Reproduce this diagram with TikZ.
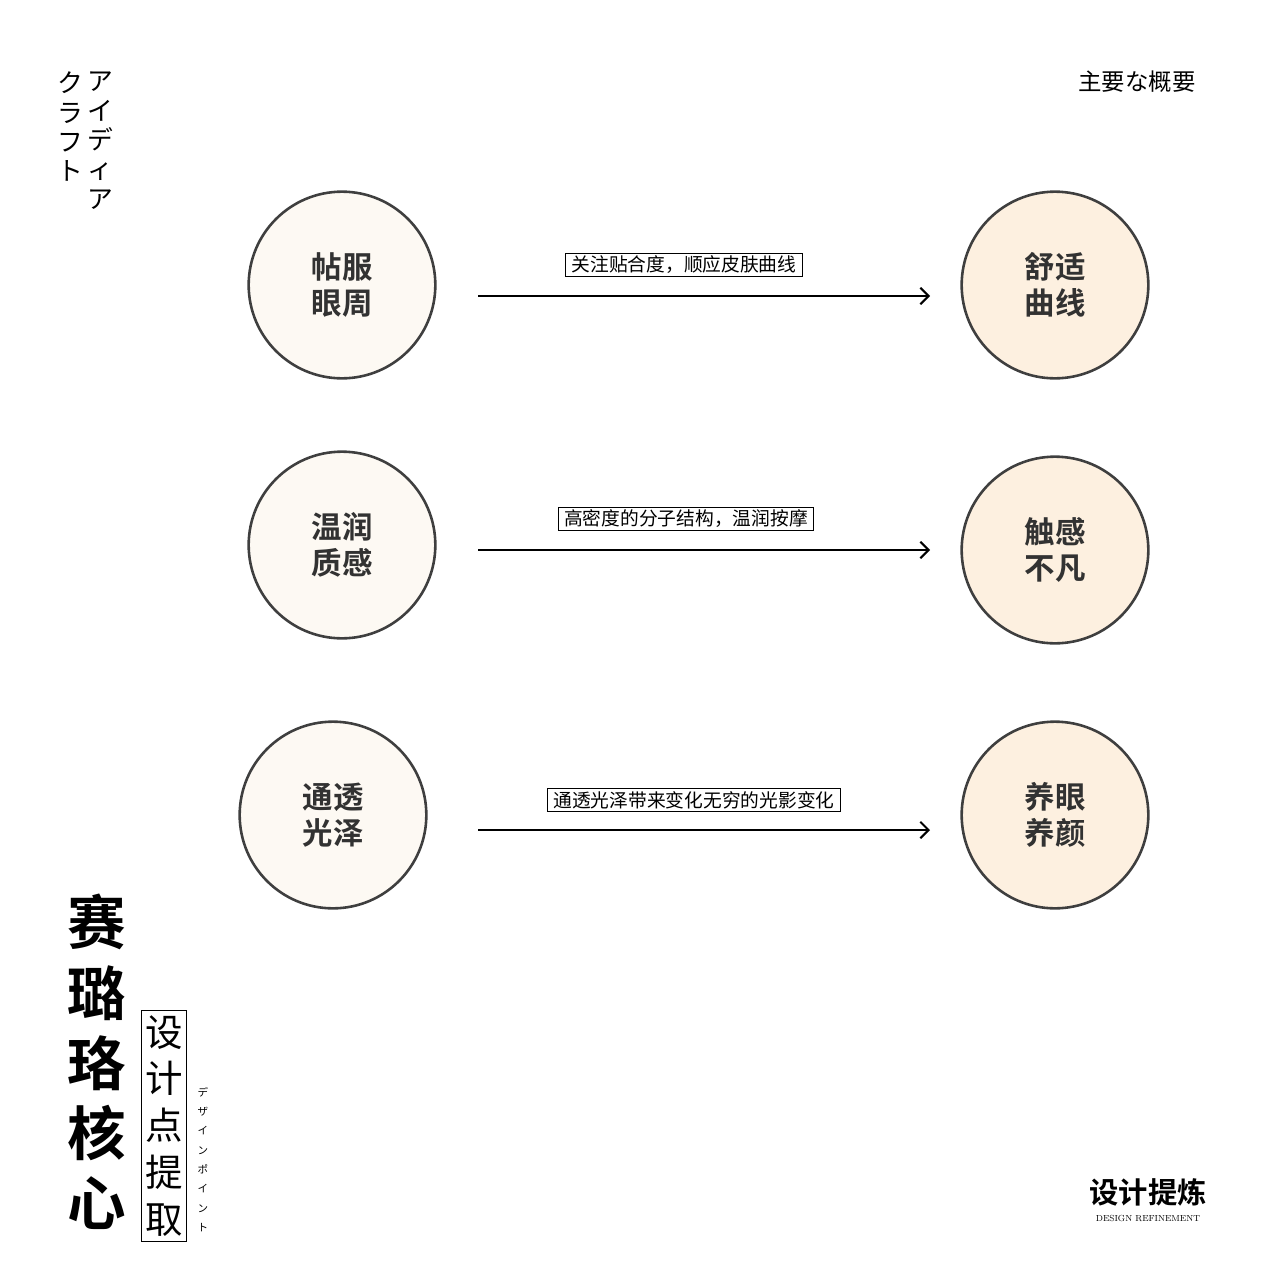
\documentclass[tikz,border=0pt]{standalone}
\usepackage{fontspec}
\newfontfamily\cjkr{Noto Sans CJK SC}
\newfontfamily\cjkb{Noto Sans CJK SC Bold}
\newfontfamily\cjkjp{Noto Sans CJK JP}
\usetikzlibrary{arrows.meta}
\definecolor{lc}{HTML}{FDF9F3}
\definecolor{rc}{HTML}{FDF0E0}
\definecolor{st}{HTML}{3F3F3F}
\tikzset{
 circ/.style={circle,draw=st,line width=2.2pt,minimum size=5.6cm,inner sep=0pt,font=\cjkb\fontsize{26}{31}\selectfont,align=center,text=st!80!black},
 lcirc/.style={circ,fill=lc},
 rcirc/.style={circ,fill=rc},
 lab/.style={draw=black,line width=1pt,fill=white,font=\cjkr\fontsize{16}{18}\selectfont,inner xsep=5pt,inner ysep=2pt},
 arr/.style={line width=1.7pt,-{Straight Barb[length=7pt,width=14pt,line width=1.7pt]}}
}
\begin{document}
\begin{tikzpicture}[x=0.03cm,y=-0.03cm]
\useasboundingbox (0,0) rectangle (1280,1280);
\node[lcirc] (a1) at (342,285) {帖服\\眼周};
\node[lcirc] (a2) at (342,545) {温润\\质感};
\node[lcirc] (a3) at (333,815) {通透\\光泽};
\node[rcirc] (b1) at (1055,285) {舒适\\曲线};
\node[rcirc] (b2) at (1055,550) {触感\\不凡};
\node[rcirc] (b3) at (1055,815) {养眼\\养颜};
\coordinate (s1) at (478,296); \coordinate (e1) at (930,296);
\coordinate (s2) at (478,550); \coordinate (e2) at (930,550);
\coordinate (s3) at (478,830); \coordinate (e3) at (930,830);
\draw[arr] (s1) -- (e1);
\draw[arr] (s2) -- (e2);
\draw[arr] (s3) -- (e3);
\node[lab] (l1) at (684,265) {关注贴合度，顺应皮肤曲线};
\node[lab] (l2) at (686,519) {高密度的分子结构，温润按摩};
\node[lab] (l3) at (694,800) {通透光泽带来变化无穷的光影变化};
\node[font=\cjkjp\fontsize{22}{25}\selectfont,align=center,anchor=north] (j1) at (100,68) {ア\\イ\\デ\\ィ\\ア};
\node[font=\cjkjp\fontsize{22}{25}\selectfont,align=center,anchor=north] (j2) at (70,68) {ク\\ラ\\フ\\ト};
\node[font=\cjkr\fontsize{20}{24}\selectfont] (t) at (1137,82) {主要な概要};
\node[font=\cjkb\fontsize{50}{60}\selectfont,align=center,anchor=north] (big) at (97,890) {赛\\璐\\珞\\核\\心};
\node[draw=black,line width=1pt,font=\cjkr\fontsize{32}{40}\selectfont,align=center,inner xsep=3pt,inner ysep=4pt,anchor=north] (sd) at (164,1010) {设\\计\\点\\提\\取};
\node[font=\cjkjp\fontsize{9}{16.5}\selectfont,align=center,anchor=north] (dp) at (203,1083) {デ\\ザ\\イ\\ン\\ポ\\イ\\ン\\ト};
\node[font=\cjkb\fontsize{25}{30}\selectfont] (r) at (1148,1192) {设计提炼};
\node[font=\fontsize{7.5}{9}\selectfont] (re) at (1148,1218) {DESIGN REFINEMENT};
\end{tikzpicture}
\end{document}
